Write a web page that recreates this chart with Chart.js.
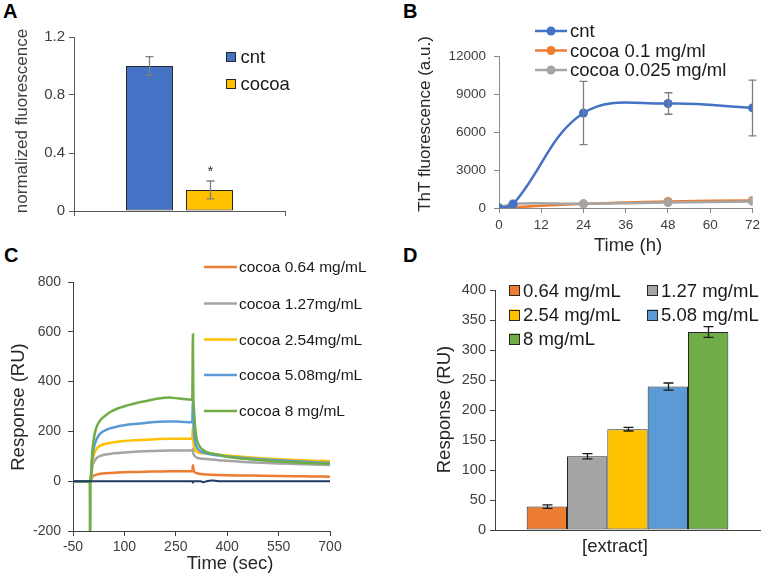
<!DOCTYPE html>
<html>
<head>
<meta charset="utf-8">
<script src="https://cdn.jsdelivr.net/npm/chart.js@4.4.1/dist/chart.umd.min.js"></script>
<style>
  html, body { margin: 0; padding: 0; background: #fff; }
  body { width: 764px; height: 575px; position: relative; overflow: hidden; font-family: 'Liberation Sans', Arial, sans-serif; }
  canvas { position: absolute; }
  .tag { position: absolute; font-weight: bold; font-size: 20px; line-height: 1; color: #000; }
</style>
</head>
<body>
<div class="tag" style="left:3px;top:1px">A</div>
<div class="tag" style="left:403px;top:1px">B</div>
<div class="tag" style="left:4px;top:245px">C</div>
<div class="tag" style="left:403px;top:245px">D</div>

<canvas id="chartA" width="380" height="250" style="left:0;top:0"></canvas>
<canvas id="chartB" width="384" height="262" style="left:380px;top:0"></canvas>
<canvas id="chartC" width="380" height="325" style="left:0;top:250px"></canvas>
<canvas id="chartD" width="384" height="325" style="left:380px;top:250px"></canvas>

<script>
// --- données ---

// A : fluorescence normalisée
const groupsA = ['cnt', 'cocoa'];
const valuesA = [1.0, 0.145];
const errorsA = [0.065, 0.062];
const yTicksA = [0, 0.4, 0.8, 1.2];

// B : cinétique ThT
const timesB = [0, 4, 24, 48, 72];
const cntB = [0, 300, 7500, 8250, 7900];
const cntErrB = [0, 0, 2500, 850, 2200];
const cocoa01B = [0, 60, 330, 520, 600];
const cocoa0025B = [0, 340, 330, 430, 520];
const xTicksB = [0, 12, 24, 36, 48, 60, 72];
const yTicksB = [0, 3000, 6000, 9000, 12000];

// C : sensorgrammes SPR
const timeC = [-50, -1, 0, 1, 3, 5, 7, 10, 15, 20, 30, 45, 60, 80, 100, 130, 160, 200, 230, 260,
  298, 300, 301, 303, 306, 310, 315, 322, 330, 340, 355, 375, 400, 450, 500, 550, 600, 650, 700];
const c064 = [0, 0, 0, 0, 5, 12, 18, 22, 25, 27, 30, 32, 33, 35, 36, 37, 38, 39, 40, 40,
  40, 64, 55, 40, 35, 33, 31, 29, 28, 27, 26, 25, 24, 23, 22, 21, 20, 19, 18];
const c127 = [0, 0, 0, 0, 12, 40, 62, 74, 86, 94, 102, 107, 110, 113, 115, 118, 120, 122, 123, 123,
  123, 130, 115, 105, 100, 96, 93, 91, 90, 89, 87, 84, 82, 77, 74, 71, 69, 67, 65];
const c254 = [0, 0, 0, 0, 15, 55, 85, 102, 120, 132, 143, 150, 154, 158, 161, 164, 166, 169, 170, 170,
  170, 220, 170, 140, 126, 120, 116, 113, 112, 111, 109, 106, 103, 97, 92, 88, 85, 82, 80];
const c508 = [0, 0, 0, 0, 20, 70, 105, 128, 155, 172, 192, 205, 213, 220, 225, 230, 234, 239, 240, 239,
  237, 330, 260, 200, 160, 140, 128, 120, 115, 111, 107, 103, 99, 93, 88, 84, 80, 76, 73];
const c8 = [0, 0, -400, 0, 30, 90, 130, 165, 200, 222, 246, 264, 279, 292, 301, 312, 321, 332, 336, 332,
  327, 590, 360, 290, 225, 177, 152, 135, 125, 117, 111, 106, 98, 90, 84, 79, 75, 72, 70];
const bufferC = [0, 0, 0, 0, 0, 0, 0, 0, 0, 0, 0, 0, 0, 0, 0, 0, 0, 0, 0, 0,
  0, -6, 0, 0, 0, 0, 0, 0, -4, 0, 3, 0, 0, 0, 0, 0, 0, 0, 0];
const xTicksC = [-50, 100, 250, 400, 550, 700];
const yTicksC = [-200, 0, 200, 400, 600, 800];

// D : réponse SPR par concentration
const concD = ['0.64 mg/mL', '1.27 mg/mL', '2.54 mg/mL', '5.08 mg/mL', '8 mg/mL'];
const respD = [39, 123, 168, 239, 330];
const errD = [3, 4.4, 3, 6, 9];
const yTicksD = [0, 50, 100, 150, 200, 250, 300, 350, 400];

// --- réglages communs ---
const FONT = "'Liberation Sans', Arial, Helvetica, sans-serif";
Chart.defaults.font.family = FONT;
Chart.defaults.animation = false;
Chart.defaults.events = [];
Chart.defaults.plugins.legend.display = false;
Chart.defaults.plugins.tooltip.enabled = false;

const BLUE = '#4472C4', ORANGE = '#ED7D31', GREY = '#A5A5A5', GOLD = '#FFC000',
      SKY = '#5B9BD5', GREEN = '#70AD47', NAVY = '#1F3864';

/** Force les graduations à partir d'une liste de valeurs. */
const fixedTicks = (values) => (scale) => { scale.ticks = values.map(v => ({ value: v })); };

/** Libellé brut (pas de séparateur de milliers). */
function plainLabel(v) {
  return this.type === 'category' ? this.getLabelForValue(v) : String(v);
}

/** Axe avec trait et petites graduations, sans quadrillage. */
function axis(color, size, pad, extra) {
  return Object.assign({
    border: { display: true, color, width: 1 },
    grid: { display: true, drawOnChartArea: false, drawTicks: true, tickLength: 5, color },
    ticks: { color: '#404040', font: { size }, padding: pad, callback: plainLabel }
  }, extra);
}

// --- plugins maison ---

// barres d'erreur
const errorBars = {
  id: 'errorBars',
  afterDatasetsDraw(chart, args, o) {
    if (!o.sets) return;
    const ctx = chart.ctx, y = chart.scales.y;
    ctx.save();
    ctx.strokeStyle = o.color;
    ctx.lineWidth = o.width;
    o.sets.forEach(set => {
      const meta = chart.getDatasetMeta(set.dataset);
      const data = chart.data.datasets[set.dataset].data;
      set.errors.forEach((e, i) => {
        if (!e) return;
        const v = typeof data[i] === 'object' ? data[i].y : data[i];
        const x = Math.round(meta.data[i].x) + 0.5;
        const top = y.getPixelForValue(v + e), bot = y.getPixelForValue(v - e);
        ctx.beginPath();
        ctx.moveTo(x, top); ctx.lineTo(x, bot);
        ctx.moveTo(x - o.cap, top); ctx.lineTo(x + o.cap, top);
        ctx.moveTo(x - o.cap, bot); ctx.lineTo(x + o.cap, bot);
        ctx.stroke();
        if (set.mark && set.mark[i]) {
          ctx.fillStyle = '#333';
          ctx.font = '15px ' + FONT;
          ctx.textAlign = 'center';
          ctx.textBaseline = 'middle';
          ctx.fillText(set.mark[i], x, top - 9);
        }
      });
    });
    ctx.restore();
  }
};

// légende dessinée à la main
const key = {
  id: 'key',
  afterDraw(chart, args, o) {
    if (!o.at) return;
    const ctx = chart.ctx;
    ctx.save();
    ctx.font = o.size + 'px ' + FONT;
    ctx.textBaseline = 'middle';
    chart.data.datasets.forEach((ds, i) => {
      const pos = o.at[i];
      if (!pos) return;
      const [x, y] = pos;
      let tx;
      if (o.kind === 'box') {
        const b = o.box;
        ctx.fillStyle = ds.backgroundColor;
        ctx.fillRect(x, y - b / 2, b, b);
        ctx.strokeStyle = '#262626';
        ctx.lineWidth = 1;
        ctx.strokeRect(Math.round(x) + 0.5, Math.round(y - b / 2) + 0.5, b - 1, b - 1);
        tx = x + b + o.gap;
      } else {
        ctx.strokeStyle = ds.borderColor;
        ctx.lineWidth = o.lineWidth;
        ctx.beginPath(); ctx.moveTo(x, y); ctx.lineTo(x + o.len, y); ctx.stroke();
        if (o.kind === 'marker') {
          ctx.fillStyle = ds.borderColor;
          ctx.beginPath(); ctx.arc(x + o.len / 2, y, o.radius, 0, Math.PI * 2); ctx.fill();
        }
        tx = x + o.len + o.gap;
      }
      ctx.fillStyle = '#1a1a1a';
      ctx.textAlign = 'left';
      ctx.fillText(ds.label, tx, y + 1);
    });
    ctx.restore();
  }
};

// titres d'axes
const titles = {
  id: 'titles',
  afterDraw(chart, args, o) {
    if (!o.items) return;
    const ctx = chart.ctx;
    o.items.forEach(t => {
      ctx.save();
      ctx.translate(t.x, t.y);
      if (t.rot) ctx.rotate(-Math.PI / 2);
      ctx.font = t.size + 'px ' + FONT;
      ctx.fillStyle = t.color || '#262626';
      ctx.textAlign = 'center';
      ctx.textBaseline = 'middle';
      ctx.fillText(t.text, 0, 0);
      ctx.restore();
    });
  }
};

Chart.register(errorBars, key, titles);

// --- A ---
new Chart(document.getElementById('chartA'), {
  type: 'bar',
  data: {
    labels: [''],
    datasets: groupsA.map((g, i) => ({
      label: g,
      data: [valuesA[i]],
      backgroundColor: [BLUE, GOLD][i],
      borderColor: '#262626',
      borderWidth: 1,
      borderSkipped: false,
      categoryPercentage: 0.569,
      barPercentage: 0.783
    }))
  },
  options: {
    responsive: false,
    layout: { padding: { left: 0, top: 37, right: 95, bottom: 0 } },
    scales: {
      x: axis('#595959', 15, 4, { afterFit: s => { s.height = 39; } }),
      y: axis('#595959', 15, 4, {
        min: 0, max: 1.2,
        afterBuildTicks: fixedTicks(yTicksA),
        afterFit: s => { s.width = 74; }
      })
    },
    plugins: {
      errorBars: {
        color: '#808080', width: 1.3, cap: 4,
        sets: [{ dataset: 0, errors: [errorsA[0]] }, { dataset: 1, errors: [errorsA[1]], mark: ['*'] }]
      },
      key: { kind: 'box', box: 10, gap: 4.5, size: 18.5, at: [[226, 57], [226, 84]] },
      titles: { items: [{ text: 'normalized fluorescence', x: 22.5, y: 121, rot: true, size: 17, color: '#404040' }] }
    }
  }
});

// --- B ---
const pts = (xs, ys) => xs.map((x, i) => ({ x, y: ys[i] }));
const lineB = (label, color, ys, order) => ({
  label, data: pts(timesB, ys), borderColor: color, backgroundColor: color,
  borderWidth: 2.5, pointRadius: 4.5, pointBackgroundColor: color, pointBorderWidth: 0,
  tension: 0.38, order
});
new Chart(document.getElementById('chartB'), {
  type: 'line',
  data: {
    datasets: [
      lineB('cnt', BLUE, cntB, 0),
      lineB('cocoa 0.1 mg/ml', ORANGE, cocoa01B, 2),
      lineB('cocoa 0.025 mg/ml', GREY, cocoa0025B, 1)
    ]
  },
  options: {
    responsive: false,
    layout: { padding: { left: 0, top: 56, right: 9, bottom: 0 } },
    scales: {
      x: axis('#898989', 13.5, 4, {
        type: 'linear', min: 0, max: 72,
        afterBuildTicks: fixedTicks(xTicksB),
        afterFit: s => { s.height = 54; }
      }),
      y: axis('#898989', 13.5, 8, {
        min: 0, max: 12000,
        afterBuildTicks: fixedTicks(yTicksB),
        afterFit: s => { s.width = 119; }
      })
    },
    plugins: {
      errorBars: { color: '#7f7f7f', width: 1.3, cap: 4, sets: [{ dataset: 0, errors: cntErrB }] },
      key: { kind: 'marker', len: 32, gap: 3, radius: 4.5, lineWidth: 2.5, size: 18.5,
             at: [[155, 31], [155, 50.5], [155, 70]] },
      titles: { items: [
        { text: 'ThT fluorescence (a.u.)', x: 45.5, y: 124, rot: true, size: 17 },
        { text: 'Time (h)', x: 248, y: 246, size: 18.5 }
      ] }
    }
  }
});

// --- C ---
const lineC = (label, color, ys, order, width) => ({
  label, data: pts(timeC, ys), borderColor: color, backgroundColor: color,
  borderWidth: width || 2.5, pointRadius: 0, cubicInterpolationMode: 'monotone', order
});
new Chart(document.getElementById('chartC'), {
  type: 'line',
  data: {
    datasets: [
      lineC('cocoa 0.64 mg/mL', ORANGE, c064, 5),
      lineC('cocoa 1.27mg/mL', GREY, c127, 4),
      lineC('cocoa 2.54mg/mL', GOLD, c254, 3),
      lineC('cocoa 5.08mg/mL', SKY, c508, 2),
      lineC('cocoa 8 mg/mL', GREEN, c8, 1),
      lineC('', NAVY, bufferC, 0, 2)
    ]
  },
  options: {
    responsive: false,
    layout: { padding: { left: 0, top: 32, right: 50, bottom: 0 } },
    scales: {
      x: axis('#404040', 14, 3, {
        type: 'linear', min: -50, max: 700,
        afterBuildTicks: fixedTicks(xTicksC),
        afterFit: s => { s.height = 44; }
      }),
      y: axis('#404040', 14, 7, {
        min: -200, max: 800,
        afterBuildTicks: fixedTicks(yTicksC),
        afterFit: s => { s.width = 73; }
      })
    },
    plugins: {
      key: { kind: 'line', len: 33, gap: 2, lineWidth: 2.5, size: 15.5,
             at: [[204, 17], [204, 53.5], [204, 89.5], [204, 125], [204, 161]] },
      titles: { items: [
        { text: 'Response (RU)', x: 18.5, y: 157, rot: true, size: 18.5 },
        { text: 'Time (sec)', x: 230, y: 313.5, size: 18.5 }
      ] }
    }
  }
});

// --- D ---
new Chart(document.getElementById('chartD'), {
  type: 'bar',
  data: {
    labels: [''],
    datasets: concD.map((c, i) => ({
      label: c,
      data: [respD[i]],
      backgroundColor: [ORANGE, GREY, GOLD, SKY, GREEN][i],
      borderColor: '#262626',
      borderWidth: 1,
      borderSkipped: false,
      categoryPercentage: 0.761,
      barPercentage: 1
    }))
  },
  options: {
    responsive: false,
    layout: { padding: { left: 0, top: 40, right: 4, bottom: 0 } },
    scales: {
      x: axis('#404040', 14.5, 3, {
        grid: { display: false },
        afterFit: s => { s.height = 45; }
      }),
      y: axis('#404040', 14.5, 4, {
        min: 0, max: 400,
        afterBuildTicks: fixedTicks(yTicksD),
        afterFit: s => { s.width = 115; }
      })
    },
    plugins: {
      errorBars: {
        color: '#1a1a1a', width: 1.3, cap: 5,
        sets: concD.map((c, i) => ({ dataset: i, errors: [errD[i]] }))
      },
      key: { kind: 'box', box: 11, gap: 3, size: 18.5,
             at: [[129, 40.5], [267, 40.5], [129, 65], [267, 65], [129, 89]] },
      titles: { items: [
        { text: 'Response (RU)', x: 65, y: 159.5, rot: true, size: 18.5 },
        { text: '[extract]', x: 235, y: 296.5, size: 18.5 }
      ] }
    }
  }
});
</script>
</body>
</html>
